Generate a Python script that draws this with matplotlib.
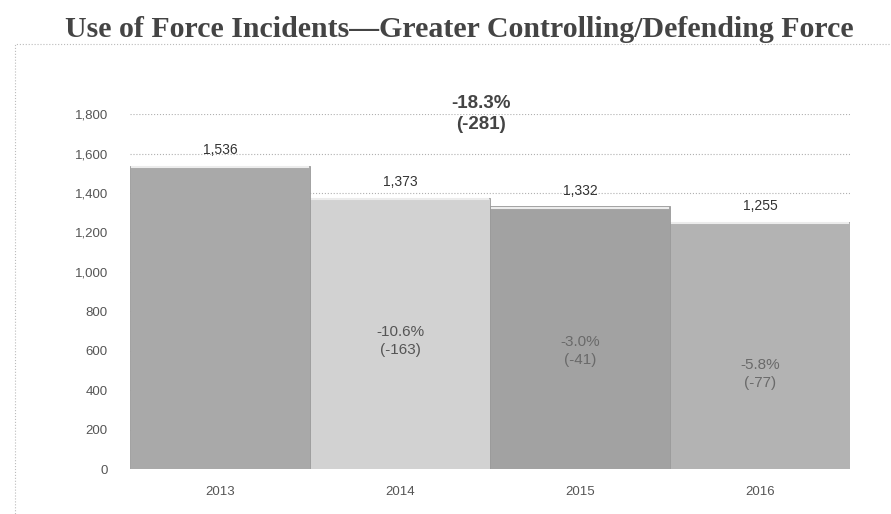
import matplotlib.pyplot as plt
from matplotlib.patches import Rectangle

years = ['2013', '2014', '2015', '2016']
incidents = [1536, 1373, 1332, 1255]
pct_change = ['-10.6%', '-3.0%', '-5.8%']
abs_change = ['(-163)', '(-41)', '(-77)']
change_y = [649, 598, 482]
total_change = '-18.3%\n(-281)'

bar_colors = ['#a9a9a9', '#d2d2d2', '#a2a2a2', '#b3b3b3']
inner_colors = ['#555555', '#6a6a6a', '#6a6a6a']

plt.rcParams['font.family'] = ['Liberation Sans', 'DejaVu Sans']

fig = plt.figure(figsize=(8.91, 5.14), dpi=100)
ax = fig.add_axes([0.1459, 0.0875, 0.8081, 0.6905])

# dotted frame round the chart area
fig.patches.append(Rectangle((15 / 891, -0.01), 1.0, 1 - 44 / 514 + 0.01,
                             transform=fig.transFigure, fill=False,
                             edgecolor='#bbbbbb', linestyle=':', linewidth=0.8))

x = list(range(len(years)))
ax.bar(x, incidents, width=1.0, color=bar_colors, edgecolor='#9a9a9a',
       linewidth=0.6, zorder=2)
# light bevel on the top edge of each bar
for xi, v in zip(x, incidents):
    ax.plot([xi - 0.49, xi + 0.49], [v - 6, v - 6], color='#ececec',
            linewidth=1.5, zorder=3)

for xi, v in zip(x, incidents):
    ax.text(xi, v + 45, f'{v:,}', ha='center', va='bottom', fontsize=10,
            color='#333333')

for xi, p, a, yy, c in zip(x[1:], pct_change, abs_change, change_y, inner_colors):
    ax.text(xi, yy, f'{p}\n{a}', ha='center', va='center', fontsize=11,
            color=c, linespacing=1.3)

ax.text(1.45, 1800, total_change, ha='center', va='center', fontsize=13.5,
        fontweight='bold', color='#444444', linespacing=1.3)

ax.set_xlim(-0.5, 3.5)
ax.set_ylim(0, 1800)
ax.set_yticks(range(0, 1801, 200))
ax.set_yticklabels([f'{t:,}' for t in range(0, 1801, 200)])
ax.set_xticks(x)
ax.set_xticklabels(years)
ax.tick_params(length=0, labelsize=9.5, colors='#555555', pad=16)
ax.tick_params(axis='x', pad=12)
ax.yaxis.grid(True, linestyle=':', color='#b0b0b0', linewidth=0.8, zorder=0)
ax.set_axisbelow(True)
for s in ax.spines.values():
    s.set_visible(False)

fig.text(0.515, 0.942, 'Use of Force Incidents\u2014Greater Controlling/Defending Force',
         ha='center', va='center', fontsize=21.5, fontweight='bold',
         family=['Liberation Serif', 'DejaVu Serif'], color='#444444')

fig.savefig('out.png', dpi=100)
